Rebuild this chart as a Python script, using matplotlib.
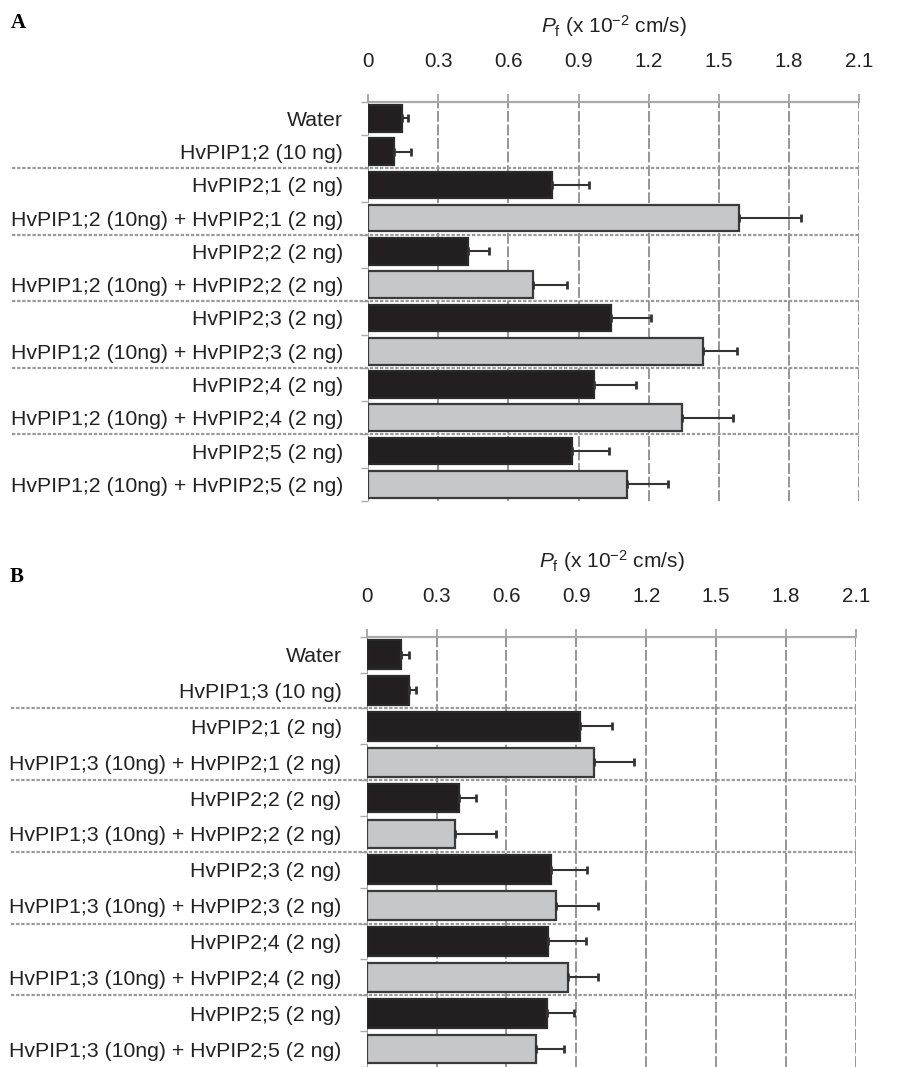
import matplotlib
matplotlib.use("Agg")
import numpy as np
from matplotlib import pyplot as plt

plt.rcParams['font.family'] = ['Liberation Sans', 'DejaVu Sans']
plt.rcParams['mathtext.fontset'] = 'custom'
plt.rcParams['mathtext.rm'] = 'Liberation Sans'
plt.rcParams['mathtext.it'] = 'Liberation Sans:italic'

# panel A
labels_a = ["Water", "HvPIP1;2 (10 ng)",
            "HvPIP2;1 (2 ng)", "HvPIP1;2 (10ng) + HvPIP2;1 (2 ng)",
            "HvPIP2;2 (2 ng)", "HvPIP1;2 (10ng) + HvPIP2;2 (2 ng)",
            "HvPIP2;3 (2 ng)", "HvPIP1;2 (10ng) + HvPIP2;3 (2 ng)",
            "HvPIP2;4 (2 ng)", "HvPIP1;2 (10ng) + HvPIP2;4 (2 ng)",
            "HvPIP2;5 (2 ng)", "HvPIP1;2 (10ng) + HvPIP2;5 (2 ng)"]
values_a = [0.146, 0.111, 0.787, 1.588, 0.428, 0.703, 1.037, 1.431, 0.964, 1.344, 0.870, 1.106]
err_a = [0.025, 0.072, 0.156, 0.266, 0.090, 0.146, 0.173, 0.145, 0.180, 0.218, 0.160, 0.175]

# panel B
labels_b = ["Water", "HvPIP1;3 (10 ng)",
            "HvPIP2;1 (2 ng)", "HvPIP1;3 (10ng) + HvPIP2;1 (2 ng)",
            "HvPIP2;2 (2 ng)", "HvPIP1;3 (10ng) + HvPIP2;2 (2 ng)",
            "HvPIP2;3 (2 ng)", "HvPIP1;3 (10ng) + HvPIP2;3 (2 ng)",
            "HvPIP2;4 (2 ng)", "HvPIP1;3 (10ng) + HvPIP2;4 (2 ng)",
            "HvPIP2;5 (2 ng)", "HvPIP1;3 (10ng) + HvPIP2;5 (2 ng)"]
values_b = [0.147, 0.180, 0.914, 0.977, 0.396, 0.379, 0.790, 0.814, 0.780, 0.862, 0.773, 0.727]
err_b = [0.035, 0.033, 0.138, 0.169, 0.072, 0.175, 0.154, 0.177, 0.160, 0.132, 0.115, 0.121]

# 0 = single injection (black), 1 = co-injection (grey)
kind = [0, 0, 0, 1, 0, 1, 0, 1, 0, 1, 0, 1]

xticks = [0, 0.3, 0.6, 0.9, 1.2, 1.5, 1.8, 2.1]
xticklabels = ["0", "0.3", "0.6", "0.9", "1.2", "1.5", "1.8", "2.1"]

fig = plt.figure(figsize=(8.97, 10.67), dpi=100)
axA = fig.add_axes([0.4106, 0.5305, 0.5470, 0.3742])
axB = fig.add_axes([0.4088, 0.0, 0.5455, 0.4033])


def draw(ax, labels, vals, errs):
    n = len(labels)
    y = np.arange(n)
    colors = ['#231f20' if k == 0 else '#c6c7c8' for k in kind]
    edges = ['#2a2a2a' if k == 0 else '#3a3a3a' for k in kind]
    ax.barh(y, vals, height=0.8, color=colors, edgecolor=edges, linewidth=1.6, zorder=3)
    ax.errorbar(vals, y, xerr=[np.zeros(n), errs], fmt='none', ecolor='#333333',
                elinewidth=1.5, capsize=3, capthick=2, zorder=4)
    ax.set_xlim(0, 2.1)
    ax.set_ylim(n - 0.5, -0.5)
    ax.set_yticks(y)
    ax.set_yticklabels(labels, fontsize=15.3, color='#222222')
    ax.tick_params(axis='y', length=0, pad=18)
    ax.set_yticks(np.arange(-0.5, n, 1.0), minor=True)
    ax.tick_params(axis='y', which='minor', length=5, color='#aaaaaa', width=1)
    ax.xaxis.tick_top()
    ax.set_xticks(xticks)
    ax.set_xticklabels(xticklabels, fontsize=14.8, color='#222222')
    ax.tick_params(axis='x', length=6, color='#999999', width=1.2, pad=16)
    ax.xaxis.set_label_position('top')
    ax.set_xlabel(r'$P_\mathrm{f}$ (x 10$^{-2}$ cm/s)', fontsize=15, labelpad=14, color='#222222')
    for s in ['right', 'bottom', 'left']:
        ax.spines[s].set_visible(False)
    ax.spines['top'].set_color('#aaaaaa')
    ax.spines['top'].set_linewidth(1.6)
    for xv in xticks:
        ax.axvline(xv, color='#8c8c8c', linewidth=1.3, linestyle=(0, (6, 1.5)), zorder=1)
    # group separators
    for yb in [1.5, 3.5, 5.5, 7.5, 9.5]:
        ax.plot([-0.727, 1.0], [yb, yb], transform=ax.get_yaxis_transform(),
                color='#9a9a9a', linewidth=1.6, linestyle=(0, (1.5, 0.8)),
                clip_on=False, zorder=2)


draw(axA, labels_a, values_a, err_a)
draw(axB, labels_b, values_b, err_b)

fig.text(0.012, 0.978, "A", fontsize=15, fontweight='bold', family='Liberation Serif', va='center')
fig.text(0.011, 0.459, "B", fontsize=15, fontweight='bold', family='Liberation Serif', va='center')

fig.savefig("out.png", dpi=100)
